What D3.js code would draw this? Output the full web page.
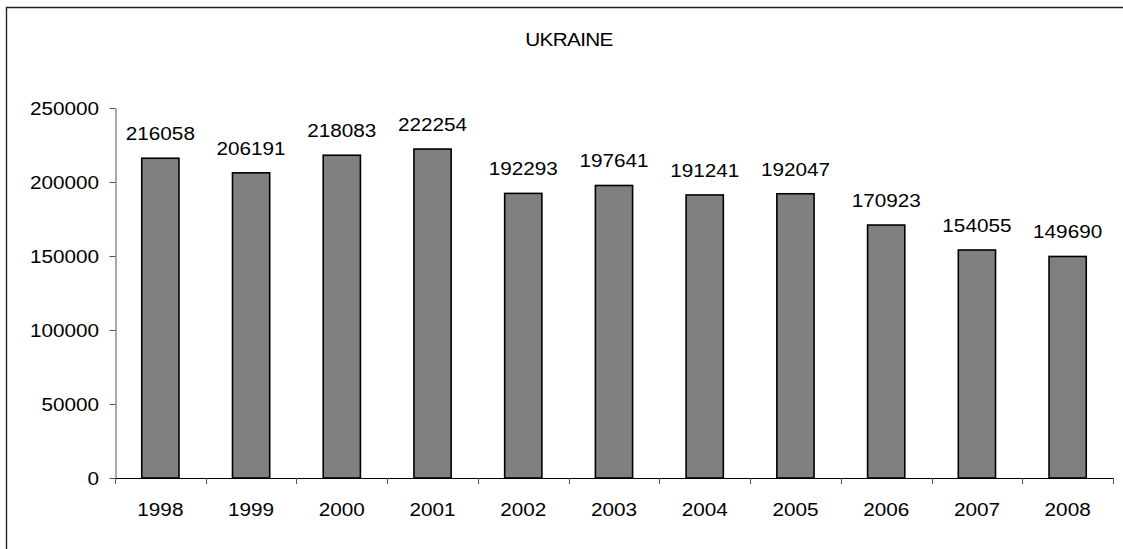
<!DOCTYPE html>
<html>
<head>
<meta charset="utf-8">
<script src="https://cdn.jsdelivr.net/npm/d3@7"></script>
<style>
  html, body { margin: 0; padding: 0; background: #fff; overflow: hidden; }
  svg { display: block; overflow: hidden; }
  text { font-family: "Liberation Sans", Arial, sans-serif; fill: #000; }
</style>
</head>
<body>
<svg id="chart" width="1123" height="549"></svg>
<script>
// Annual values, 1998-2008
const years = ["1998", "1999", "2000", "2001", "2002", "2003", "2004", "2005", "2006", "2007", "2008"];
const values = [216058, 206191, 218083, 222254, 192293, 197641, 191241, 192047, 170923, 154055, 149690];
const yTicks = [0, 50000, 100000, 150000, 200000, 250000];
const title = "UKRAINE";

const W = 1123, H = 549;
const plot = { left: 115, right: 1113, top: 108, bottom: 478 };
const SX = 1.12;            // horizontal stretch of the label glyphs
const FS = 18.5;

const svg = d3.select("#chart");

// frame: left and top edges of the chart area
svg.append("path")
  .attr("d", `M6.5,${H} L6.5,7.5 L${W},7.5`)
  .attr("fill", "none").attr("stroke", "#222").attr("stroke-width", 1.4);

const x = d3.scaleBand()
  .domain(years)
  .range([plot.left, plot.right])
  .paddingInner(0.59)
  .paddingOuter(0.295);

const y = d3.scaleLinear()
  .domain([0, 250000])
  .range([plot.bottom, plot.top]);

function stretchedText(g, px, py, str, anchor, size) {
  return g.append("text")
    .attr("transform", `translate(${px},${py}) scale(${SX},1)`)
    .attr("text-anchor", anchor)
    .style("font-size", size + "px")
    .text(str);
}

// title
stretchedText(svg, 569, 45.5, title, "middle", 18.5).style("letter-spacing", "-0.6px");

// bars
svg.append("g").selectAll("rect")
  .data(values)
  .join("rect")
  .attr("x", (d, i) => x(years[i]))
  .attr("y", d => y(d))
  .attr("width", x.bandwidth())
  .attr("height", d => y(0) - y(d))
  .attr("fill", "#808080")
  .attr("stroke", "#000")
  .attr("stroke-width", 1.6);

// value labels above bars
const lblG = svg.append("g");
values.forEach((v, i) => {
  stretchedText(lblG, x(years[i]) + x.bandwidth() / 2, y(v) - 18, String(v), "middle", FS);
});

// y axis
const yAxis = d3.axisLeft(y).tickValues(yTicks).tickSize(6).tickSizeOuter(0).tickFormat(d3.format("d"));
const yg = svg.append("g").attr("transform", `translate(${plot.left + 0.5},0)`).call(yAxis);
yg.select(".domain").attr("stroke", "#555").attr("stroke-width", 1);
yg.selectAll(".tick line").attr("stroke", "#555");
yg.selectAll(".tick text").remove();
yTicks.forEach(t => {
  stretchedText(svg, 99, y(t) + 6.5, String(t), "end", FS);
});

// x axis: line with ticks at category boundaries
const xg = svg.append("g");
xg.append("line")
  .attr("x1", plot.left).attr("x2", plot.right)
  .attr("y1", plot.bottom + 0.5).attr("y2", plot.bottom + 0.5)
  .attr("stroke", "#000").attr("stroke-width", 1.2);
const boundaries = years.map(yr => x(yr) - x.step() * x.paddingInner() / 2).concat([plot.right]);
xg.selectAll("line.tk")
  .data(boundaries)
  .join("line")
  .attr("class", "tk")
  .attr("x1", d => Math.round(d) + 0.5).attr("x2", d => Math.round(d) + 0.5)
  .attr("y1", plot.bottom).attr("y2", plot.bottom + 6)
  .attr("stroke", "#555");
years.forEach(yr => {
  stretchedText(xg, x(yr) + x.bandwidth() / 2, 516, yr, "middle", FS);
});
</script>
</body>
</html>
